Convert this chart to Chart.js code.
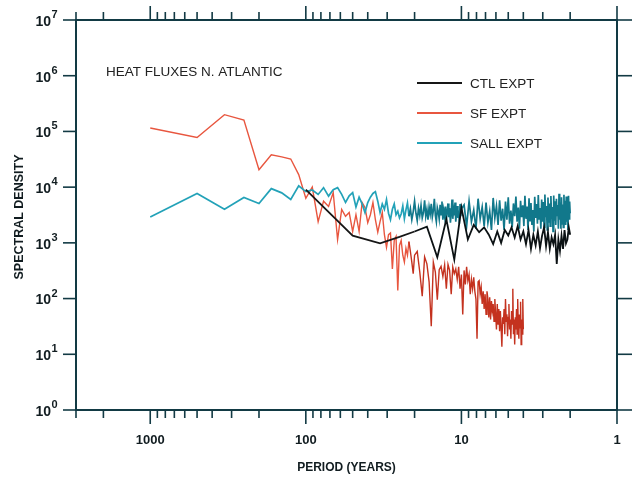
<!DOCTYPE html>
<html>
<head>
<meta charset="utf-8">
<title>Heat fluxes N. Atlantic</title>
<script src="https://cdn.jsdelivr.net/npm/chart.js@4.4.1/dist/chart.umd.min.js"></script>
<style>
  html, body { margin: 0; padding: 0; background: #fff; }
</style>
</head>
<body>
<canvas id="spectrumChart" width="635" height="477"></canvas>
<script>
// axis ticks
const periodLabels = [1000, 100, 10, 1];
const densityExponents = [0, 1, 2, 3, 4, 5, 6, 7];

// CTL EXPT: 100-yr record, harmonics 1..50 (period = 100 / k)
const ctlRecord = 100;
const ctlDensity = [
  9000, 1350, 980, 1280, 1600, 1950, 550, 2650, 500, 4300,
  1150, 2100, 1550, 1900, 1400, 950, 1600, 1000, 1700, 1350,
  1900, 1250, 2000, 1150, 1600, 950, 1700, 780, 1400, 900,
  1600, 800, 1350, 1900, 880, 1550, 780, 1250, 950, 1400,
  420, 1150, 720, 1350, 780, 1700, 980, 1150, 1900, 1400
];

// SF EXPT: 1000-yr record, harmonics 1..50, then every 2nd up to 250
const sfRecord = 1000;
const sfDensity = [
  115000, 78000, 200000, 160000, 20500, 38000, 35000, 32000, 16800, 6300, 10000, 2400,
  5600, 4500, 8000, 1150, 4000, 3000, 3500, 1600, 3200, 1600, 5300, 4300,
  2300, 3200, 5300, 2600, 1550, 2400, 3500, 1400, 830, 1400, 1500, 340,
  1100, 1300, 140, 900, 1100, 600, 450, 800, 600, 1050, 700, 450, 280, 600,
  // k = 52..250 step 2
  700, 300, 110, 560, 420,
  200, 32, 450, 300, 95, 330, 380, 250, 400, 150,
  410, 320, 120, 370, 280,
  340, 220, 370, 150, 270,
  52, 320, 180, 370, 210, 270, 120, 220, 150, 240,
  135, 98, 19, 200, 210, 120, 160, 80, 135, 65,
  120, 52, 135, 98, 46, 105, 42, 90, 60, 80,
  39, 98, 52, 28, 80, 35, 65, 26, 60, 30,
  13.6, 46, 35, 65, 23, 98, 39, 52, 21, 46,
  80, 28, 42, 19, 60, 35, 150, 23, 42, 15, 46, 28,
  65, 23, 98, 35, 19, 52, 30, 88, 15, 42, 23, 98, 28
];

// SALL EXPT: 1000-yr record, harmonics 1..100, then every 4th up to 500
const sallRecord = 1000;
const sallDensity = [
  2900, 7700, 4000, 6500, 5100, 9400, 7900, 6000, 10600, 8300,
  8900, 7400, 9800, 6900, 9000, 9800, 7400, 5300, 7000, 8000,
  4400, 6600, 5000, 3500, 5300, 6600, 7700, 8300, 5600, 3500,
  5000, 4000, 6000, 3400, 2600, 4000, 5000, 3200, 3700, 2800,
  3300, 4600, 2700, 3900, 5200, 3000, 4100, 2600, 3600, 5600,
  3400, 2500, 4200, 3100, 4700, 2800, 3500, 5800, 3000, 4000,
  2600, 4400, 3300, 5000, 2900, 3800, 6200, 3100, 2400, 4300,
  3600, 2700, 4800, 3200, 5500, 2600, 3900, 3000, 4500, 2500,
  3700, 5100, 2900, 4200, 2300, 3500, 6000, 2700, 4000, 3100,
  5300, 2400, 3600, 4600, 2800, 3800, 2200, 5000, 3000, 4100,
  // k = 104..500 step 4
  4800, 2000, 5600, 2400, 3900, 1800, 6200, 2700, 4400, 2000,
  5300, 2300, 3700, 1700, 6400, 2800, 4600, 2100, 5800, 2500,
  4100, 1700, 5500, 2600, 6600, 2200, 3800, 1900, 5100, 3000,
  6800, 2400, 4300, 1800, 5700, 2900, 4700, 2000, 7000, 2700,
  4500, 1700, 6300, 2500, 5200, 2100, 3900, 1600, 6700, 2800,
  5000, 2200, 7200, 2600, 4200, 1800, 6000, 2400, 5400, 1900,
  7400, 2900, 4600, 1700, 6500, 2300, 5100, 2000, 6900, 2700,
  4400, 1600, 7100, 2500, 5600, 2100, 6200, 3100, 4800, 1800,
  7600, 2600, 5300, 1800, 6600, 2200, 4900, 1900, 7300, 2800,
  5700, 2100, 6800, 2400, 4700, 1700, 7000, 2700, 5500, 3400
];

// harmonic index grid: every harmonic up to fineTo, then every coarseStep
function harmonicGrid(fineTo, coarseStep, coarseTo) {
  const ks = [];
  for (let k = 1; k <= fineTo; k++) ks.push(k);
  for (let k = fineTo + coarseStep; k <= coarseTo; k += coarseStep) ks.push(k);
  return ks;
}

function toPoints(record, ks, density) {
  return ks.map((k, i) => ({ x: record / k, y: density[i] }));
}

const ctlPoints = toPoints(ctlRecord, harmonicGrid(50, 1, 50), ctlDensity);
const sfPoints = toPoints(sfRecord, harmonicGrid(50, 2, 250), sfDensity);
const sallPoints = toPoints(sallRecord, harmonicGrid(100, 4, 500), sallDensity);

// dense (short period) part of the scanned curves prints darker
const series = [
  { label: 'CTL EXPT', color: '#161616', dense: '#0c1214', width: 1.8, data: ctlPoints },
  { label: 'SALL EXPT', color: '#23a2b8', dense: '#11788b', width: 1.7, data: sallPoints },
  { label: 'SF EXPT', color: '#e8563f', dense: '#c4321f', width: 1.4, data: sfPoints }
];
const legendOrder = ['CTL EXPT', 'SF EXPT', 'SALL EXPT'];

const INK = '#111c20';
const AXIS = '#123a44';
const FONT = '"Liberation Sans", Arial, sans-serif';

function seg(ctx, x1, y1, x2, y2) {
  ctx.beginPath();
  ctx.moveTo(x1, y1);
  ctx.lineTo(x2, y2);
  ctx.stroke();
}

/* =========================
   Frame, ticks and labels
========================= */
const axesFrame = {
  id: 'axesFrame',
  afterDatasetsDraw(chart) {
    const { ctx, chartArea: a, scales: { x, y } } = chart;
    ctx.save();
    ctx.strokeStyle = AXIS;
    ctx.lineWidth = 2;
    ctx.strokeRect(a.left, a.top, a.right - a.left, a.bottom - a.top);

    // period ticks, top and bottom (outward)
    ctx.lineWidth = 1.6;
    [1, 10, 100, 1000].forEach(d => {
      for (let m = 1; m <= 9; m++) {
        const v = m * d;
        if (v > x.max) break;
        const px = x.getPixelForValue(v);
        const len = m === 1 ? 14 : 8;
        seg(ctx, px, a.bottom, px, a.bottom + len);
        seg(ctx, px, a.top, px, a.top - len);
      }
    });

    // density ticks, left and right (outward)
    densityExponents.forEach(e => {
      const py = y.getPixelForValue(Math.pow(10, e));
      seg(ctx, a.left - 13, py, a.left, py);
      seg(ctx, a.right, py, a.right + 15, py);
    });

    ctx.fillStyle = INK;

    // period labels
    ctx.font = 'bold 13px ' + FONT;
    ctx.textAlign = 'center';
    ctx.textBaseline = 'middle';
    periodLabels.forEach(p => {
      ctx.fillText(String(p), x.getPixelForValue(p), 440);
    });

    // density labels 10^n
    densityExponents.forEach(e => {
      const py = y.getPixelForValue(Math.pow(10, e));
      ctx.font = 'bold 14px ' + FONT;
      ctx.textAlign = 'right';
      ctx.fillText('10', 51, py + 2);
      ctx.font = 'bold 11px ' + FONT;
      ctx.textAlign = 'left';
      ctx.fillText(String(e), 51.5, py - 5);
    });

    // axis titles
    ctx.font = 'bold 12px ' + FONT;
    ctx.textAlign = 'center';
    ctx.fillText('PERIOD (YEARS)', (a.left + a.right) / 2, 468);
    ctx.save();
    ctx.translate(20, (a.top + a.bottom) / 2 + 2);
    ctx.rotate(-Math.PI / 2);
    ctx.font = 'bold 12.5px ' + FONT;
    ctx.fillText('SPECTRAL DENSITY', 0, 0);
    ctx.restore();

    // panel title
    ctx.font = '13.5px ' + FONT;
    ctx.textAlign = 'left';
    ctx.fillStyle = '#222';
    ctx.fillText('HEAT FLUXES N. ATLANTIC', 106, 72);

    // legend
    legendOrder.forEach((name, i) => {
      const s = series.find(d => d.label === name);
      const ly = 83 + i * 30;
      ctx.strokeStyle = s.color;
      ctx.lineWidth = 2;
      seg(ctx, 417, ly, 462, ly);
      ctx.fillStyle = '#222';
      ctx.fillText(name, 470, ly + 1);
    });
    ctx.restore();
  }
};

new Chart(document.getElementById('spectrumChart'), {
  type: 'line',
  data: {
    datasets: series.map(s => ({
      label: s.label,
      data: s.data,
      borderColor: s.color,
      borderWidth: s.width,
      pointRadius: 0,
      tension: 0,
      fill: false,
      segment: {
        borderColor: c => (c.p0.parsed.x < 22 ? s.dense : undefined)
      }
    }))
  },
  options: {
    responsive: false,
    devicePixelRatio: 1,
    animation: false,
    layout: { padding: { left: 76, right: 18, top: 20, bottom: 67 } },
    plugins: {
      legend: { display: false },
      tooltip: { enabled: false }
    },
    scales: {
      x: { type: 'logarithmic', min: 1, max: 3000, reverse: true, display: false },
      y: { type: 'logarithmic', min: 1, max: 1e7, display: false }
    }
  },
  plugins: [axesFrame]
});
</script>
</body>
</html>
